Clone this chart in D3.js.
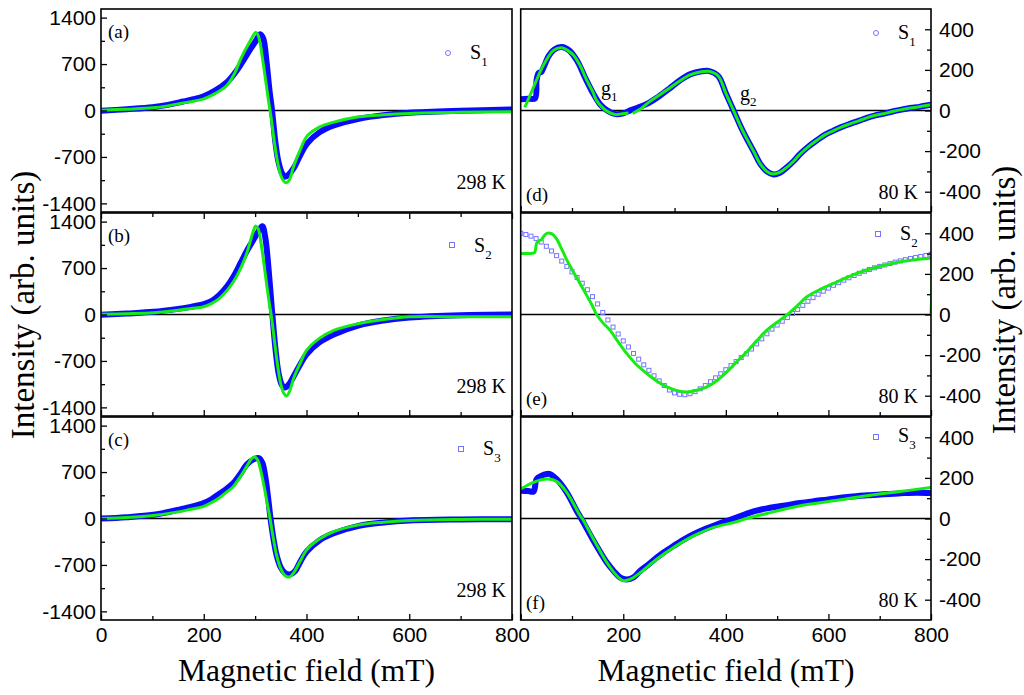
<!DOCTYPE html>
<html lang="en">
<head>
<meta charset="UTF-8" />
<title>EPR spectra S1-S3</title>
<script src="https://d3js.org/d3.v7.min.js"></script>
<style>
  body { margin: 0; background: #fff; }
  .tick text { font-family: 'Liberation Sans', Arial, sans-serif; font-size: 21px; fill: #000; }
  .tick line { stroke: #000; stroke-width: 1.3; }
  .domain { display: none; }
  .serif { font-family: 'Liberation Serif', 'Times New Roman', serif; fill: #000; }
</style>
</head>
<body>
<div id="chart"></div>
<script>
// magnetic field (mT) / intensity (arb. units), 298 K spectra
const fieldA = [0, 50, 100, 130, 160, 180, 200, 222, 245, 260, 272, 290, 301, 310, 316, 322, 328, 333, 339, 345, 352, 358, 366, 375, 388, 401, 425, 453, 502, 550, 601, 700, 800];
const dataA = [-5, 20, 50, 85, 135, 170, 216, 300, 427, 560, 693, 919, 1044, 1150, 1080, 750, 300, 0, -450, -760, -940, -1000, -960, -870, -670, -500, -330, -225, -125, -70, -35, -5, 15];
const fitFieldA = [0, 50, 100, 130, 160, 180, 200, 222, 245, 260, 272, 290, 301, 305, 310, 315, 320, 326, 331, 337, 343, 350, 356, 361, 367, 375, 388, 401, 425, 453, 502, 550, 601, 700, 800];
const fitA = [5, 20, 40, 70, 115, 140, 176, 255, 377, 560, 778, 1044, 1175, 1150, 1000, 750, 480, 150, -100, -450, -750, -980, -1070, -1090, -1040, -840, -590, -386, -250, -176, -95, -65, -45, -28, -20];

const fieldB = [0, 50, 102, 150, 175, 200, 215, 230, 245, 258, 272, 284, 297, 307, 314, 320, 326, 333, 340, 346, 352, 358, 366, 375, 388, 400, 425, 453, 502, 550, 601, 700, 800];
const dataB = [-5, 15, 40, 85, 115, 155, 200, 290, 420, 573, 780, 960, 1130, 1260, 1330, 1150, 700, 50, -550, -900, -1060, -1100, -1050, -930, -750, -600, -420, -300, -162, -90, -45, -10, 0];
const fitFieldB = [0, 50, 102, 150, 175, 200, 215, 230, 245, 258, 272, 284, 295, 301, 306, 311, 316, 322, 327, 332, 338, 344, 350, 356, 361, 367, 375, 388, 400, 425, 453, 502, 550, 601, 700, 800];
const fitB = [5, 12, 25, 65, 90, 117, 165, 240, 360, 497, 700, 928, 1220, 1333, 1290, 1100, 830, 480, 200, -50, -420, -780, -1050, -1190, -1227, -1160, -960, -730, -542, -360, -238, -137, -75, -35, -35, -35];

const fieldC = [0, 50, 102, 150, 175, 200, 215, 230, 245, 258, 272, 284, 298, 307, 314, 320, 325, 330, 336, 342, 350, 358, 368, 378, 388, 400, 425, 453, 502, 550, 601, 700, 800];
const dataC = [0, 20, 56, 130, 175, 233, 290, 370, 450, 537, 680, 816, 895, 910, 840, 620, 330, 0, -320, -560, -740, -820, -842, -790, -650, -502, -330, -223, -111, -60, -30, -15, -10];
const fitFieldC = [0, 50, 102, 150, 175, 200, 215, 230, 245, 258, 272, 284, 293, 299, 305, 311, 317, 323, 329, 335, 342, 350, 358, 367, 375, 388, 400, 425, 453, 502, 550, 601, 700, 800];
const fitC = [0, 15, 45, 100, 140, 183, 240, 310, 400, 487, 640, 790, 900, 928, 880, 720, 500, 250, 0, -280, -560, -760, -860, -882, -820, -640, -477, -310, -198, -96, -55, -30, -15, -10];

// 80 K spectra
const fieldD = [0, 15, 28, 31, 35, 40, 45, 55, 65, 80, 95, 110, 125, 140, 155, 170, 185, 200, 215, 230, 250, 270, 290, 310, 330, 350, 366, 385, 400, 415, 430, 441, 455, 467, 480, 493, 505, 519, 532, 545, 560, 577, 593, 610, 625, 642, 660, 675, 690, 707, 725, 740, 755, 772, 785, 800];
const dataD = [55, 58, 60, 150, 185, 190, 215, 270, 300, 313, 295, 245, 165, 90, 30, -2, -18, -14, 2, 16, 38, 70, 108, 148, 178, 192, 195, 170, 85, 0, -85, -140, -205, -263, -300, -315, -307, -280, -250, -214, -180, -148, -120, -99, -82, -66, -50, -36, -25, -16, -5, 3, 10, 16, 22, 28];
const fitFieldD1 = [8, 20, 30, 44, 64, 80, 92, 103, 115, 129, 140, 148, 158, 168, 184, 198, 210];
const fitD1 = [15, 85, 145, 222, 296, 309, 295, 272, 225, 148, 95, 49, 18, -3, -20, -16, -12];
const fitFieldD2 = [218, 235, 252, 270, 290, 310, 330, 350, 366, 385, 400, 415, 430, 441, 455, 467, 480, 493, 505, 519, 532, 545, 560, 577, 593, 610, 625, 642, 660, 675, 690, 707, 725, 740, 755, 772, 785, 800];
const fitD2 = [-15, 10, 45, 75, 110, 145, 175, 190, 193, 170, 85, 0, -85, -140, -205, -263, -300, -313, -305, -280, -250, -214, -180, -148, -120, -99, -82, -66, -50, -36, -25, -16, -5, 3, 10, 16, 22, 28];

const fieldE = [0, 10, 20, 30, 40, 50, 60, 70, 80, 90, 100, 110, 120, 130, 140, 150, 160, 170, 180, 190, 200, 210, 220, 230, 240, 250, 260, 270, 280, 290, 300, 310, 320, 330, 340, 350, 360, 370, 380, 390, 400, 410, 420, 430, 440, 450, 460, 470, 480, 490, 500, 510, 520, 530, 540, 550, 560, 570, 580, 590, 600, 610, 620, 630, 640, 650, 660, 670, 680, 690, 700, 710, 720, 730, 740, 750, 760, 770, 780, 790, 800];
const dataE = [400, 394, 386, 374, 357, 336, 313, 290, 263, 237, 210, 182, 154, 122, 88, 52, 10, -27, -62, -96, -130, -160, -192, -220, -248, -275, -302, -327, -350, -372, -386, -393, -395, -390, -380, -366, -350, -331, -312, -292, -272, -252, -232, -212, -194, -170, -145, -120, -95, -72, -52, -33, -15, 5, 25, 45, 65, 83, 100, 115, 130, 144, 157, 169, 181, 192, 203, 213, 222, 230, 237, 244, 251, 258, 264, 270, 276, 281, 286, 291, 296];
const fitFieldE = [0, 10, 20, 27, 31, 35, 40, 45, 51, 60, 70, 80, 90, 100, 110, 120, 130, 140, 148, 160, 174, 190, 207, 225, 246, 265, 285, 305, 324, 345, 363, 383, 402, 420, 441, 460, 480, 500, 520, 540, 558, 585, 610, 640, 675, 705, 740, 770, 798, 800, 800];
const fitE = [300, 300, 301, 305, 350, 362, 368, 385, 400, 398, 372, 322, 268, 222, 178, 133, 88, 42, 0, -40, -77, -135, -193, -245, -291, -328, -357, -375, -382, -372, -357, -325, -283, -236, -184, -130, -77, -38, 0, 45, 87, 125, 153, 187, 219, 240, 260, 270, 277, 277, 0];

const fieldF = [0, 15, 25, 31, 40, 51, 57, 70, 90, 109, 118, 130, 142, 155, 168, 181, 194, 207, 220, 233, 250, 265, 280, 298, 317, 337, 356, 376, 395, 415, 435, 454, 480, 512, 545, 577, 610, 642, 675, 707, 740, 772, 800];
const dataF = [137, 135, 133, 194, 210, 219, 219, 194, 128, 38, 0, -55, -110, -165, -217, -258, -291, -300, -290, -258, -225, -193, -165, -135, -105, -77, -55, -36, -18, 0, 18, 35, 50, 63, 76, 87, 98, 107, 114, 120, 124, 127, 125];
const fitFieldF = [0, 25, 51, 70, 90, 116, 120, 142, 168, 185, 200, 215, 233, 265, 298, 337, 376, 415, 441, 480, 545, 610, 675, 740, 800];
const fitF = [145, 178, 194, 183, 128, 13, 0, -102, -217, -275, -306, -298, -267, -201, -143, -86, -44, -20, 0, 25, 63, 87, 112, 133, 153];

// axis ticks
const fieldTicks = [0, 200, 400, 600, 800];
const fieldMinor = [100, 300, 500, 700];
const roomTicks = [-1400, -700, 0, 700, 1400];
const roomMinor = [-1050, -350, 350, 1050];
const lowTicks = [-400, -200, 0, 200, 400];
const lowMinor = [-300, -100, 100, 300];

const W = 1024, H = 695;
const svg = d3.select('#chart').append('svg').attr('width', W).attr('height', H);

const cols = { left: [101, 512], right: [520.7, 931] };
const rowTops = [9, 213, 417];
const rowH = 203;

const zip = (xs, ys) => xs.map((v, i) => [v, ys[i]]);

const panels = [
  { col: 'left', row: 0, tag: '(a)', temp: '298 K', sub: '1', marker: 'circle', yMax: 1530,
    data: zip(fieldA, dataA), fits: [zip(fitFieldA, fitA)], leg: [448, 53, 470, 59] },
  { col: 'left', row: 1, tag: '(b)', temp: '298 K', sub: '2', marker: 'square', yMax: 1530,
    data: zip(fieldB, dataB), fits: [zip(fitFieldB, fitB)], leg: [452, 245, 474, 252], topTicks: true },
  { col: 'left', row: 2, tag: '(c)', temp: '298 K', sub: '3', marker: 'square', yMax: 1530,
    data: zip(fieldC, dataC), fits: [zip(fitFieldC, fitC)], leg: [461, 449, 483, 455], labels: true },
  { col: 'right', row: 0, tag: '(d)', temp: '80 K', sub: '1', marker: 'circle', yMax: 500,
    data: zip(fieldD, dataD), fits: [zip(fitFieldD1, fitD1), zip(fitFieldD2, fitD2)], leg: [876, 33, 898, 39] },
  { col: 'right', row: 1, tag: '(e)', temp: '80 K', sub: '2', marker: 'square', yMax: 500,
    data: zip(fieldE, dataE), squares: true, fits: [zip(fitFieldE, fitE)], leg: [878, 234, 900, 240] },
  { col: 'right', row: 2, tag: '(f)', temp: '80 K', sub: '3', marker: 'square', yMax: 500,
    data: zip(fieldF, dataF), fits: [zip(fitFieldF, fitF)], leg: [876, 437, 898, 442], labels: true }
];

const blue = '#0a0aff';
const green = '#14ec14';
const markColor = '#7474ff';

panels.forEach((p, i) => {
  const [x0, x1] = cols[p.col];
  const top = rowTops[p.row], bottom = top + rowH;
  const x = d3.scaleLinear().domain([0, 800]).range([x0, x1]);
  const y = d3.scaleLinear().domain([-p.yMax, p.yMax]).range([bottom, top]);
  const isLeft = p.col === 'left';

  svg.append('clipPath').attr('id', 'clip' + i)
    .append('rect').attr('x', x0).attr('y', top).attr('width', x1 - x0).attr('height', rowH);
  const plot = svg.append('g').attr('clip-path', `url(#clip${i})`);

  // baseline at zero
  plot.append('line')
    .attr('x1', x0).attr('x2', x1).attr('y1', y(0)).attr('y2', y(0))
    .attr('stroke', '#000').attr('stroke-width', 1.4);

  const line = d3.line()
    .x(d => x(d[0])).y(d => y(d[1]))
    .curve(d3.curveCatmullRom.alpha(0.5));

  if (p.squares) {
    plot.selectAll('.sq').data(p.data).enter().append('rect')
      .attr('x', d => x(d[0]) - 2).attr('y', d => y(d[1]) - 2)
      .attr('width', 4).attr('height', 4)
      .attr('fill', 'none').attr('stroke', markColor).attr('stroke-width', 1);
  } else {
    plot.append('path').datum(p.data).attr('d', line)
      .attr('fill', 'none').attr('stroke', blue).attr('stroke-width', 6)
      .attr('stroke-linejoin', 'round').attr('stroke-linecap', 'round');
  }
  p.fits.forEach(f => {
    plot.append('path').datum(f).attr('d', line)
      .attr('fill', 'none').attr('stroke', green).attr('stroke-width', 3)
      .attr('stroke-linejoin', 'round');
  });

  // frame
  svg.append('rect').attr('x', x0).attr('y', top).attr('width', x1 - x0).attr('height', rowH)
    .attr('fill', 'none').attr('stroke', '#000').attr('stroke-width', 1.6);

  // intensity axis (ticks point inward)
  const yMajor = isLeft ? roomTicks : lowTicks;
  const yMinor = isLeft ? roomMinor : lowMinor;
  const yAxis = isLeft ? d3.axisLeft(y) : d3.axisRight(y);
  const yAxisMinor = isLeft ? d3.axisLeft(y) : d3.axisRight(y);
  svg.append('g').attr('transform', `translate(${isLeft ? x0 : x1},0)`)
    .call(yAxis.tickValues(yMajor).tickSize(-6).tickPadding(isLeft ? 5 : 8).tickFormat(d => String(d)));
  svg.append('g').attr('transform', `translate(${isLeft ? x0 : x1},0)`)
    .call(yAxisMinor.tickValues(yMinor).tickSize(-4).tickFormat(''));

  // field axis
  if (!(isLeft && p.row === 0)) {
    const shown = p.labels ? (isLeft ? fieldTicks : fieldTicks.slice(1)) : [];
    svg.append('g').attr('transform', `translate(0,${bottom})`)
      .call(d3.axisBottom(x).tickValues(fieldTicks).tickSize(-6).tickPadding(7)
        .tickFormat(d => shown.includes(d) ? String(d) : ''));
    svg.append('g').attr('transform', `translate(0,${bottom})`)
      .call(d3.axisBottom(x).tickValues(fieldMinor).tickSize(-4).tickFormat(''));
  }
  if (p.topTicks) {
    svg.append('g').attr('transform', `translate(0,${top})`)
      .call(d3.axisTop(x).tickValues(fieldTicks).tickSize(-6).tickFormat(''));
    svg.append('g').attr('transform', `translate(0,${top})`)
      .call(d3.axisTop(x).tickValues(fieldMinor).tickSize(-4).tickFormat(''));
  }

  // panel tag and temperature
  const tagY = isLeft ? top + 29 : bottom - 11;
  svg.append('text').attr('class', 'serif').attr('x', isLeft ? 108 : 526)
    .attr('y', tagY).attr('font-size', 19).text(p.tag);
  svg.append('text').attr('class', 'serif').attr('text-anchor', 'end')
    .attr('x', isLeft ? 506 : 918).attr('y', isLeft ? bottom - 23 : bottom - 13)
    .attr('font-size', 20).text(p.temp);

  // legend entry
  const [mx, my, tx, ty] = p.leg;
  if (p.marker === 'circle') {
    svg.append('circle').attr('cx', mx).attr('cy', my).attr('r', 2.5)
      .attr('fill', 'none').attr('stroke', markColor).attr('stroke-width', 1);
  } else {
    svg.append('rect').attr('x', mx - 2.5).attr('y', my - 2.5).attr('width', 5).attr('height', 5)
      .attr('fill', 'none').attr('stroke', markColor).attr('stroke-width', 1);
  }
  const lt = svg.append('text').attr('class', 'serif').attr('x', tx).attr('y', ty).attr('font-size', 20);
  lt.append('tspan').text('S');
  lt.append('tspan').attr('font-size', 13).attr('dy', 7).text(p.sub);
});

// g-factor markers in panel (d)
[['g', '1', 601, 95], ['g', '2', 740, 100]].forEach(([t, s, gx, gy]) => {
  const tx = svg.append('text').attr('class', 'serif').attr('x', gx).attr('y', gy).attr('font-size', 20);
  tx.append('tspan').text(t);
  tx.append('tspan').attr('font-size', 13).attr('dy', 6).text(s);
});

// axis titles
[306.5, 726].forEach(cx => {
  svg.append('text').attr('class', 'serif').attr('text-anchor', 'middle')
    .attr('x', cx).attr('y', 681).attr('font-size', 31.5).text('Magnetic field (mT)');
});
[[34, 305], [1015, 300]].forEach(([cx, cy]) => {
  svg.append('text').attr('class', 'serif').attr('text-anchor', 'middle')
    .attr('transform', `translate(${cx},${cy}) rotate(-90)`)
    .attr('font-size', 33).text('Intensity (arb. units)');
});
</script>
</body>
</html>
